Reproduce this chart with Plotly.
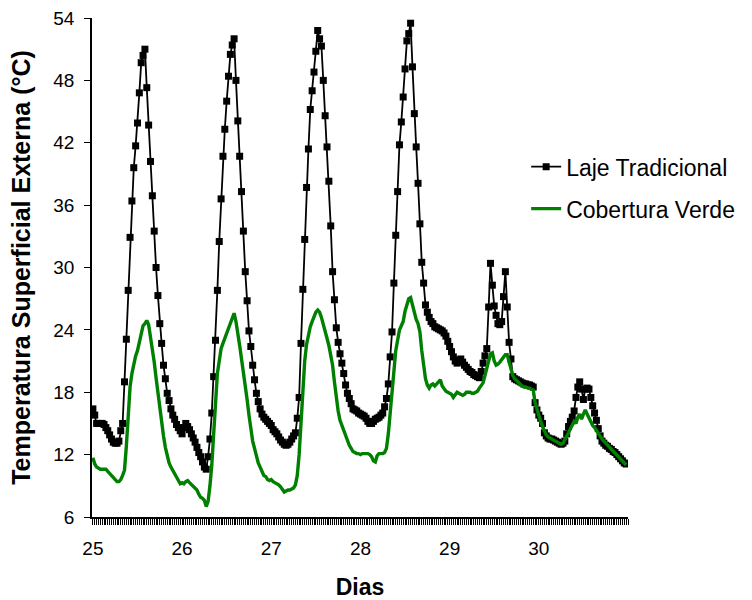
import plotly.graph_objects as go

# half-hourly readings, 25..30 (48 per day)
days_start = 25
steps_per_day = 48
x_tick_vals = [25, 26, 27, 28, 29, 30]
x_tick_text = ["25", "26", "27", "28", "29", "30"]
y_tick_vals = [6, 12, 18, 24, 30, 36, 42, 48, 54]

laje_tradicional = [
    # day 25
    16.4, 15.8, 15.0, 15.0, 15.0, 15.0, 14.9, 14.6, 14.3, 13.9,
    13.5, 13.2, 13.1, 13.1, 13.3, 14.3, 15.0, 19.0, 23.1, 27.8,
    32.9, 36.4, 39.6, 41.7, 43.9, 46.8, 49.7, 50.4, 51.0, 47.3,
    43.7, 40.2, 36.9, 33.5, 30.0, 27.3, 24.6, 22.7, 20.6, 19.3,
    17.9, 17.2, 16.4, 15.8, 15.4, 14.9, 14.6, 14.3,
    # day 26
    14.0, 14.6, 15.0, 14.7, 14.4, 14.0, 13.6, 13.2, 12.7, 12.2,
    11.8, 11.3, 10.8, 10.6, 11.8, 13.5, 16.0, 19.5, 23.0, 27.8,
    32.5, 36.6, 40.7, 43.3, 46.0, 48.4, 50.5, 51.4, 52.0, 48.0,
    44.1, 40.7, 37.3, 33.5, 29.6, 26.8, 23.9, 22.4, 20.6, 19.2,
    17.9, 17.1, 16.4, 15.9, 15.6, 15.4, 15.2, 15.0,
    # day 27
    14.8, 14.4, 14.2, 14.0, 13.7, 13.4, 13.2, 13.0, 12.9, 13.0,
    13.2, 13.5, 13.8, 14.1, 15.5, 17.5, 22.7, 27.9, 32.7, 37.7,
    41.4, 45.2, 47.0, 48.8, 50.8, 52.8, 52.0, 51.3, 48.0, 44.6,
    41.6, 38.3, 34.0, 29.6, 26.9, 24.2, 22.8, 21.7, 20.8, 19.8,
    18.7, 17.9, 17.4, 16.9, 16.4, 16.3, 16.2, 16.0,
    # day 28
    15.9, 15.8, 15.7, 15.5, 15.2, 15.0, 15.0, 15.2, 15.4, 15.5,
    15.6, 15.8, 16.0, 16.6, 17.4, 18.8, 21.4, 23.8, 28.5, 33.1,
    37.3, 41.8, 44.0, 46.4, 49.1, 51.8, 52.5, 53.5, 49.3, 44.8,
    41.6, 38.1, 34.2, 30.5, 28.5, 26.4, 25.7, 25.2, 24.8, 24.6,
    24.3, 24.2, 24.1, 24.0, 23.9, 23.7, 23.4, 22.9,
    # day 29
    22.4, 21.9, 21.4, 21.0, 20.8, 21.1, 21.2, 20.9, 20.6, 20.4,
    20.2, 20.0, 19.9, 19.7, 19.6, 19.5, 19.4, 20.0, 20.8, 21.5,
    22.2, 26.2, 30.4, 28.3, 26.3, 25.4, 24.6, 24.5, 24.8, 27.2,
    29.6, 26.2, 22.8, 21.2, 19.5, 19.3, 19.2, 19.1, 19.0, 18.9,
    18.8, 18.8, 18.7, 18.7, 18.6, 18.5, 17.0, 16.3,
    # day 30
    15.8, 15.5, 15.0, 14.1, 13.8, 13.6, 13.5, 13.5, 13.4, 13.3,
    13.2, 13.1, 13.0, 13.1, 13.3, 14.0, 14.7, 15.2, 15.6, 16.2,
    17.5, 18.5, 19.0, 18.3, 17.3, 18.3, 18.4, 18.3, 17.5, 16.7,
    16.0, 15.3, 14.5, 13.8, 13.3, 13.1, 12.9, 12.8, 12.6, 12.5,
    12.3, 12.2, 12.0, 11.8, 11.6, 11.4, 11.2, 11.1,
]

cobertura_verde = [
    # day 25
    11.7, 11.1, 10.8, 10.7, 10.6, 10.6, 10.6, 10.6, 10.4, 10.2,
    10.0, 9.8, 9.6, 9.4, 9.4, 9.6, 10.0, 10.5, 12.8, 16.0,
    18.5, 19.8, 20.9, 21.5, 22.0, 22.8, 23.8, 24.4, 24.6, 24.9,
    24.5, 23.4, 22.0, 20.9, 19.4, 17.9, 16.5, 15.1, 13.8, 12.7,
    11.8, 11.2, 10.8, 10.5, 10.1, 9.8, 9.5, 9.2,
    # day 26
    9.3, 9.2, 9.4, 9.5, 9.3, 9.1, 8.9, 8.8, 8.6, 8.2,
    7.9, 7.8, 7.6, 7.0, 7.5, 9.0, 11.0, 14.0, 17.5, 19.8,
    21.0, 22.2, 22.7, 23.2, 23.7, 24.2, 24.8, 25.2, 25.6, 24.8,
    23.8, 22.5, 21.2, 20.0, 18.6, 17.3, 15.8, 14.5, 13.3, 12.6,
    11.8, 11.2, 10.8, 10.3, 10.0, 9.9, 9.6, 9.5,
    # day 27
    9.6, 9.4, 9.3, 9.2, 9.1, 8.9, 8.6, 8.4, 8.5, 8.6,
    8.6, 8.7, 8.8, 9.1, 10.0, 12.0, 15.5, 18.0, 21.0, 22.6,
    23.5, 24.3, 24.8, 25.3, 25.7, 25.9, 25.7, 25.2, 24.6, 23.9,
    23.2, 22.5, 21.6, 20.6, 19.0, 17.5, 16.2, 15.3, 14.8, 14.4,
    13.8, 13.2, 12.9, 12.6, 12.3, 12.2, 12.1, 12.1,
    # day 28
    12.0, 12.1, 12.1, 12.1, 12.1, 12.0, 11.8, 11.4, 11.3, 11.9,
    12.1, 12.1, 12.1, 12.2, 12.6, 14.0, 16.0, 18.5, 20.8, 22.0,
    23.0, 24.0, 24.4, 24.8, 25.8, 26.3, 27.0, 27.1, 26.4, 25.4,
    25.0, 24.6, 23.8, 22.0, 20.5, 19.3, 18.7, 18.4, 18.7, 18.8,
    18.6, 18.8, 19.0, 19.2, 18.6, 18.3, 18.1, 18.0,
    # day 29
    17.9, 17.8, 17.5, 17.7, 18.0, 17.9, 17.8, 17.7, 17.8, 18.0,
    18.0, 18.0, 17.9, 17.9, 18.0, 18.1, 18.4, 18.6, 18.9, 19.6,
    20.4, 21.2, 21.7, 21.8, 21.0, 20.6, 20.7, 20.9, 21.1, 21.3,
    21.6, 21.6, 21.0, 20.2, 19.6, 19.3, 19.1, 18.9, 18.7, 18.6,
    18.5, 18.5, 18.4, 18.4, 18.3, 18.2, 17.0, 16.3,
    # day 30
    15.8, 15.2, 14.7, 14.2, 13.9, 13.7, 13.6, 13.5, 13.4, 13.3,
    13.2, 13.1, 13.0, 13.1, 13.4, 13.8, 14.1, 14.5, 14.9, 15.2,
    15.0, 15.6, 15.9, 15.4, 15.9, 16.3, 15.9, 15.5, 15.1, 14.8,
    14.6, 14.3, 14.0, 13.7, 13.5, 13.3, 13.1, 12.9, 12.7, 12.5,
    12.3, 12.1, 11.9, 11.7, 11.5, 11.3, 11.1, 11.0,
]

x_vals = [days_start + i / steps_per_day for i in range(len(laje_tradicional))]

FONT = "Arial, 'Liberation Sans', sans-serif"

fig = go.Figure()
fig.add_trace(go.Scatter(
    x=x_vals, y=laje_tradicional, name="Laje Tradicional",
    mode="lines+markers",
    line=dict(color="black", width=1.8),
    marker=dict(symbol="square", size=7, color="black"),
    legendgroup="a",
))
fig.add_trace(go.Scatter(
    x=x_vals, y=cobertura_verde, name="Cobertura Verde",
    mode="lines",
    line=dict(color="#008000", width=3.4),
    legendgroup="b",
))

fig.update_layout(
    width=752, height=600,
    margin=dict(l=92, r=120, t=18, b=83),
    plot_bgcolor="white", paper_bgcolor="white",
    font=dict(family=FONT, color="black", size=19),
    showlegend=True,
    legend=dict(
        x=0.81, y=0.745, xanchor="left", yanchor="top",
        font=dict(family=FONT, size=23, color="black"),
        tracegroupgap=9, bgcolor="rgba(0,0,0,0)",
        traceorder="grouped",
    ),
    xaxis=dict(
        range=[24.99, 31.0], automargin=False,
        tickmode="array", tickvals=x_tick_vals, ticktext=x_tick_text,
        ticks="outside", ticklen=6, tickwidth=1, tickcolor="black",
        showline=True, linecolor="black", linewidth=1.5,
        showgrid=False, zeroline=False,
        ticklabelstandoff=7,
        minor=dict(tickmode="linear", tick0=25, dtick=1 / 48,
                   ticks="outside", ticklen=6, tickwidth=1,
                   tickcolor="black", showgrid=False),
        title=dict(text="<b>Dias</b>", font=dict(family=FONT, size=23),
                   standoff=28),
    ),
    yaxis=dict(
        range=[6, 54], automargin=False,
        tickmode="array", tickvals=y_tick_vals,
        ticks="outside", ticklen=6, tickwidth=1, tickcolor="black",
        showline=True, linecolor="black", linewidth=1.5,
        showgrid=False, zeroline=False,
        ticklabelstandoff=6,
        title=dict(text="<b>Temperatura Superficial Externa (°C)</b>",
                   font=dict(family=FONT, size=25), standoff=16),
    ),
)

fig.write_html("out.html")
